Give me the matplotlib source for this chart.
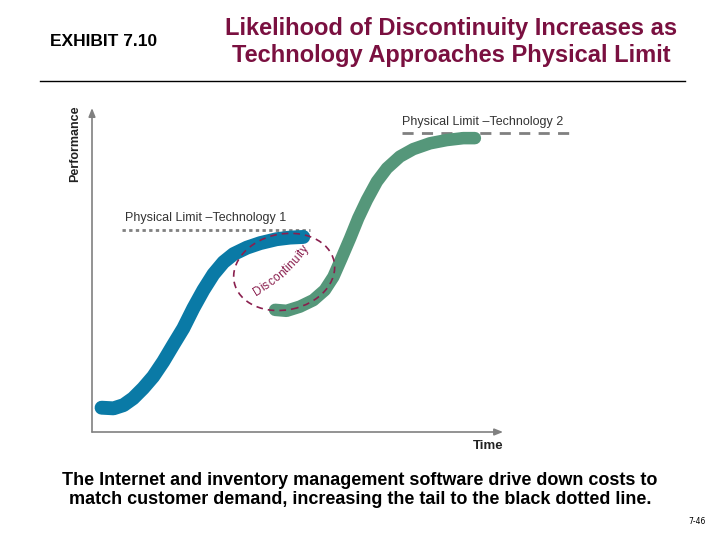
import numpy as np
import matplotlib

matplotlib.use("Agg")
import matplotlib.pyplot as plt
from matplotlib.font_manager import FontProperties
from matplotlib.patches import Ellipse
from matplotlib.textpath import TextPath
from matplotlib.transforms import ScaledTranslation

# S-curves (time, performance on a 0-100 scale)
TECH1_TIME = [2.0, 4.5, 6.6, 8.6, 10.7, 12.8, 14.9, 17.0, 19.1, 21.2, 23.3, 25.4,
              27.5, 29.6, 32.4, 35.2, 38.6, 41.4, 44.2]
TECH1_PERF = [7.5, 7.3, 8.3, 10.4, 13.5, 17.1, 21.7, 26.9, 32.0, 38.2, 43.8, 48.7,
              52.4, 54.9, 56.9, 58.3, 59.5, 60.0, 60.2]
TECH2_TIME = [38.3, 40.7, 43.5, 46.3, 48.7, 50.5, 52.2, 54.0, 55.7, 57.5, 59.6, 61.7,
              64.4, 67.2, 70.7, 74.2, 77.7, 80.1]
TECH2_PERF = [37.7, 37.4, 38.7, 40.7, 43.8, 47.9, 53.6, 59.8, 66.0, 71.6, 77.3, 81.4,
              85.0, 87.3, 89.1, 90.1, 90.7, 90.7]

LIMIT1 = 62.3
LIMIT1_SPAN = (6.3, 45.6)
LIMIT2 = 92.3
LIMIT2_SPAN = (64.9, 100.0)
GAP_CENTER = (40.2, 49.4)   # middle of the discontinuity zone

BLUE = "#0a7aa6"
GREEN = "#55977a"
MAROON = "#8a1f4e"
GRAY = "#808080"
SANS = ["Liberation Sans", "DejaVu Sans"]

fig = plt.figure(figsize=(7.2, 5.4), dpi=100)

# header
fig.text(50 / 720, 1 - 42 / 540, "EXHIBIT 7.10", fontsize=12.5, fontweight="bold",
         family=SANS, va="center", ha="left")
fig.text(451 / 720, 1 - 42 / 540,
         "Likelihood of Discontinuity Increases as\nTechnology Approaches Physical Limit",
         fontsize=17, fontweight="bold", color="#7a1040", family=SANS,
         ha="center", va="center", linespacing=1.17)
fig.add_artist(plt.Line2D([40 / 720, 685 / 720], [1 - 81 / 540] * 2, color="black", lw=1))

# footer
fig.text(360 / 720, 1 - 490 / 540,
         "The Internet and inventory management software drive down costs to\n"
         "match customer demand, increasing the tail to the black dotted line.",
         fontsize=13, fontweight="bold", family=SANS,
         ha="center", va="center", linespacing=1.1)
fig.text(697 / 720, 1 - 521 / 540, "7-46", fontsize=5.5, ha="center", va="center")

ax = fig.add_axes([92 / 720, 108 / 540, 478 / 720, 324 / 540])
ax.set_xlim(0, 100)
ax.set_ylim(0, 100)
ax.axis("off")

# axes with arrowheads
arrow = dict(arrowstyle="-|>,head_length=0.5,head_width=0.2", color=GRAY, lw=1.2,
             shrinkA=0, shrinkB=0)
ax.annotate("", xy=(86, 0), xytext=(0, 0), arrowprops=arrow, annotation_clip=False)
ax.annotate("", xy=(0, 100), xytext=(0, 0), arrowprops=arrow, annotation_clip=False)
ax.text(86, -4.2, "Time", fontsize=9.5, fontweight="bold", family=SANS,
        ha="right", va="center", color="#222222")
ax.text(-3.6, 89, "Performance", fontsize=9, fontweight="bold", family=SANS,
        rotation=90, ha="center", va="center", color="#222222")

# physical limits
ax.plot(LIMIT1_SPAN, [LIMIT1] * 2, color=GRAY, lw=2, ls=(0, (1.2, 1.2)))
ax.text(LIMIT1_SPAN[0] + 0.7, LIMIT1 + 3.6, "Physical Limit \u2013Technology 1",
        fontsize=9, family=SANS, color="#333333", ha="left", va="center")
ax.plot(LIMIT2_SPAN, [LIMIT2] * 2, color=GRAY, lw=2, ls=(0, (4, 3)))
ax.text(LIMIT2_SPAN[0], LIMIT2 + 3.4, "Physical Limit \u2013Technology 2",
        fontsize=9, family=SANS, color="#333333", ha="left", va="center")

# technology curves
ax.plot(TECH1_TIME, TECH1_PERF, color=BLUE, lw=10, solid_capstyle="round",
        solid_joinstyle="round")
ax.plot(TECH2_TIME, TECH2_PERF, color=GREEN, lw=9, solid_capstyle="round",
        solid_joinstyle="round")

# discontinuity zone, sized in inches around its centre in data coords
around_gap = fig.dpi_scale_trans + ScaledTranslation(*GAP_CENTER, ax.transData)
ax.add_patch(Ellipse((0, 0), 1.02, 0.76, angle=12, fill=False, transform=around_gap,
                     edgecolor=MAROON, lw=1.2, ls=(0, (4, 3)), zorder=3))

# "Discontinuity" bent along an arc inside the ellipse
label = "Discontinuity"
fs = 8.5
prop = FontProperties(family=SANS, size=fs)
widths = [TextPath((0, 0), label[:i + 1], size=fs, prop=prop).get_extents().x1 / 72
          for i in range(len(label))]
arc_c = np.array([-1.14, 1.25])
radius = 1.72
start = np.radians(30)
prev = 0.0
for ch, w in zip(label, widths):
    s = 1.08 * (prev + w) / 2
    prev = w
    th = start + s / radius
    pos = arc_c + radius * np.array([np.sin(th), -np.cos(th)])
    ax.text(pos[0], pos[1], ch, fontsize=fs, family=SANS, color=MAROON,
            rotation=np.degrees(th), rotation_mode="anchor",
            ha="center", va="baseline", transform=around_gap)

fig.savefig("out.png", dpi=100)
